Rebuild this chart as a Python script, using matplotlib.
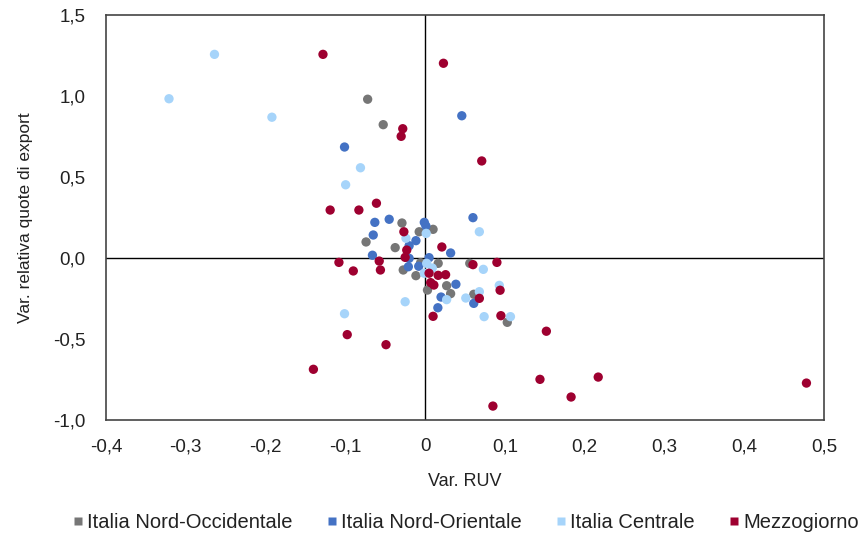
import matplotlib
matplotlib.use('Agg')
import matplotlib.pyplot as plt
from matplotlib.ticker import FuncFormatter

plt.rcParams['font.family'] = ['Liberation Sans Narrow', 'Liberation Sans', 'DejaVu Sans']

# Italia Nord-Occidentale
nw_x = [-0.072, -0.0525, -0.029, 0.010, -0.0074, -0.074, -0.0375, -0.0274, -0.0056,
        0.0164, -0.0115, 0.003, 0.027, 0.032, 0.056, 0.061, 0.103]
nw_y = [0.980, 0.823, 0.216, 0.177, 0.162, 0.099, 0.064, -0.074, -0.029,
        -0.033, -0.109, -0.198, -0.171, -0.220, -0.033, -0.224, -0.397]

# Italia Nord-Orientale
ne_x = [0.046, -0.101, 0.060, -0.063, -0.045, -0.001, 0.001, -0.065, -0.0115, -0.020,
        0.032, -0.066, -0.020, -0.021, -0.008, 0.005, 0.0386, 0.020, 0.016, 0.061]
ne_y = [0.878, 0.685, 0.249, 0.220, 0.239, 0.220, 0.198, 0.142, 0.107, 0.076,
        0.031, 0.017, -0.002, -0.054, -0.051, 0.002, -0.162, -0.241, -0.307, -0.280]

# Italia Centrale
ce_x = [-0.264, -0.321, -0.192, -0.081, -0.0996, 0.068, 0.0014, -0.024, 0.002, 0.009,
        -0.001, 0.027, -0.025, -0.101, 0.073, 0.093, 0.068, 0.051, 0.074, 0.107]
ce_y = [1.257, 0.983, 0.869, 0.557, 0.452, 0.162, 0.152, 0.122, -0.033, -0.062,
        -0.094, -0.257, -0.270, -0.344, -0.070, -0.169, -0.208, -0.247, -0.362, -0.362]

# Mezzogiorno
me_x = [-0.128, 0.023, -0.028, -0.030, 0.071, -0.061, -0.119, -0.083, -0.0266, -0.023,
        0.021, -0.025, -0.108, -0.0575, -0.090, -0.056, 0.005, 0.0164, 0.0257, 0.007,
        0.011, 0.010, -0.0976, -0.049, -0.140, 0.060, 0.090, 0.094, 0.068, 0.095,
        0.152, 0.144, 0.217, 0.183, 0.478, 0.085]
me_y = [1.257, 1.202, 0.798, 0.751, 0.599, 0.338, 0.296, 0.296, 0.162, 0.049,
        0.068, 0.004, -0.027, -0.019, -0.080, -0.074, -0.094, -0.107, -0.103, -0.152,
        -0.167, -0.360, -0.473, -0.535, -0.687, -0.041, -0.027, -0.199, -0.249, -0.356,
        -0.452, -0.749, -0.735, -0.858, -0.772, -0.914]

series = [
    ('Italia Nord-Occidentale', nw_x, nw_y, '#767676'),
    ('Italia Nord-Orientale', ne_x, ne_y, '#4472c4'),
    ('Italia Centrale', ce_x, ce_y, '#a6d4fa'),
    ('Mezzogiorno', me_x, me_y, '#9e0030'),
]

fig = plt.figure(figsize=(8.63, 5.43), dpi=100)
ax = fig.add_axes([0.1228, 0.2265, 0.8320, 0.7459])

for name, xs, ys, col in series:
    ax.scatter(xs, ys, s=45, color=col, edgecolors='none', label=name, zorder=3)

ax.axhline(0, color='black', lw=1, zorder=2)
ax.axvline(0, color='black', lw=1, zorder=2)

ax.set_xlim(-0.4, 0.5)
ax.set_ylim(-1.0, 1.5)
ax.set_xticks([-0.4, -0.3, -0.2, -0.1, 0, 0.1, 0.2, 0.3, 0.4, 0.5])
ax.set_yticks([-1.0, -0.5, 0.0, 0.5, 1.0, 1.5])


def fmt_x(v, pos):
    if abs(v) < 1e-9:
        return '0'
    return f'{v:.1f}'.replace('.', ',')


def fmt_y(v, pos):
    if abs(v) < 1e-9:
        v = 0.0
    return f'{v:.1f}'.replace('.', ',')


ax.xaxis.set_major_formatter(FuncFormatter(fmt_x))
ax.yaxis.set_major_formatter(FuncFormatter(fmt_y))
ax.tick_params(axis='both', length=0, labelsize=13.5, colors='#222222')
ax.tick_params(axis='x', pad=13)
ax.tick_params(axis='y', pad=15)

for sp in ax.spines.values():
    sp.set_color('#444444')
    sp.set_linewidth(1.2)

ax.set_xlabel('Var. RUV', fontsize=13, color='#222222', labelpad=13)
ax.set_ylabel('Var. relativa quote di export', fontsize=12.5, color='#222222', labelpad=14)

handles = [plt.Line2D([], [], marker='s', linestyle='none', markersize=6,
                      markerfacecolor=col, markeredgecolor='none')
           for _, _, _, col in series]
fig.legend(handles, [s[0] for s in series], loc='center', ncol=4,
           bbox_to_anchor=(0.539, 0.037), frameon=False, fontsize=14.5,
           handletextpad=0.1, columnspacing=1.6, handlelength=0.7,
           labelcolor='#222222')

fig.savefig('out.png', dpi=100)
